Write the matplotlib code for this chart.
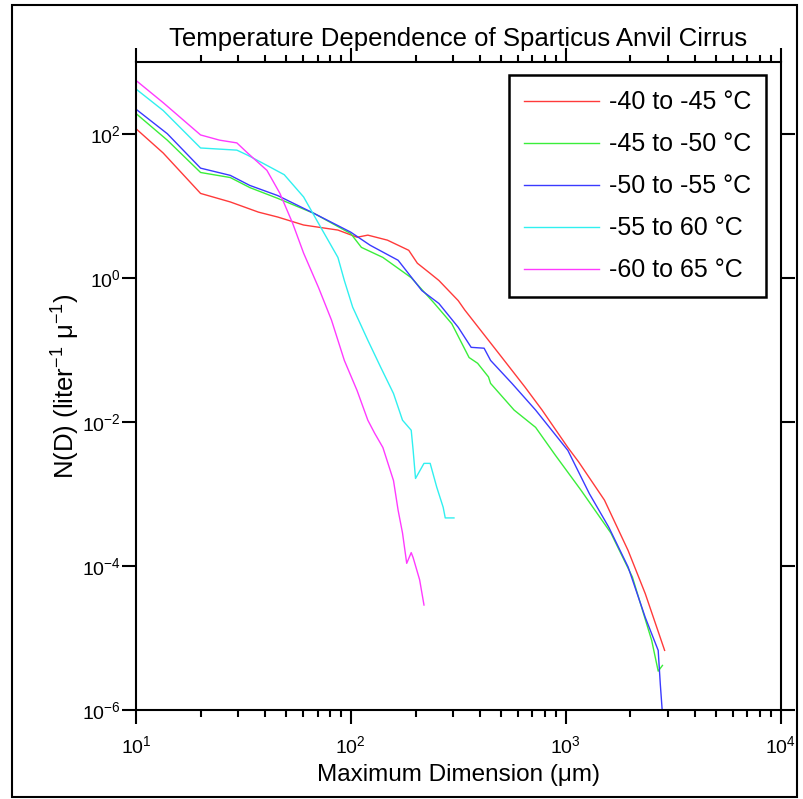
import numpy as np
import matplotlib
matplotlib.use("Agg")
import matplotlib.pyplot as plt
from matplotlib.patches import Rectangle
from matplotlib.ticker import NullLocator, LogLocator

plt.rcParams['font.family'] = ['Liberation Sans', 'DejaVu Sans']
plt.rcParams['mathtext.fontset'] = 'custom'
plt.rcParams['mathtext.rm'] = 'Liberation Sans'
plt.rcParams['mathtext.it'] = 'Liberation Sans:italic'

## Size distributions (D in microns, N in liter^-1 micron^-1)
d_40_45 = [10, 13.4, 20, 27.5, 37.2, 45.7, 60.3, 87.1, 107, 120, 148, 186, 204, 234,
           257, 316, 339, 490, 646, 776, 1023, 1148, 1514, 1950, 2344, 2884]
n_40_45 = [120, 55, 15.1, 11.5, 8.3, 7.1, 5.5, 4.68, 3.72, 3.98, 3.39, 2.45, 1.62, 1.17,
           0.933, 0.490, 0.363, 0.0891, 0.0309, 0.0148, 0.00447, 0.00282, 8.3e-4,
           1.66e-4, 4.17e-5, 6.8e-6]

d_45_50 = [10, 14.0, 20, 27.5, 33.9, 45.7, 67.6, 100, 112, 141, 191, 245, 295, 355,
           389, 437, 447, 575, 724, 891, 1175, 1622, 2042, 2512, 2692, 2818]
n_45_50 = [195, 83, 29.5, 25.1, 18.2, 12.9, 7.94, 4.17, 2.69, 1.95, 1.02, 0.447, 0.234,
           0.0794, 0.0661, 0.0427, 0.0347, 0.0148, 0.00851, 0.00355, 0.00115, 2.9e-4,
           7.1e-5, 9.3e-6, 3.5e-6, 4.2e-6]

d_50_55 = [10, 14.0, 20, 27.5, 33.9, 45.7, 67.6, 100, 123, 166, 214, 257, 316, 363,
           417, 447, 562, 724, 1023, 1288, 1585, 1950, 2344, 2692, 2754, 2818]
n_50_55 = [224, 102, 33.9, 26.9, 19.5, 14.1, 7.94, 4.37, 2.88, 1.78, 0.676, 0.447, 0.209,
           0.110, 0.107, 0.0724, 0.0347, 0.0148, 0.00407, 0.00102, 3.5e-4, 9.8e-5,
           1.95e-5, 6.8e-6, 2.3e-6, 8.9e-7]

d_55_60 = [10, 13.4, 20, 29.5, 33.1, 38.9, 49.0, 60.3, 72.4, 87.1, 93.3, 102, 120, 138,
           158, 174, 191, 195, 200, 219, 234, 251, 269, 275, 302]
n_55_60 = [427, 214, 64.6, 60.3, 51.3, 39.8, 27.5, 13.5, 5.13, 1.95, 0.933, 0.398, 0.138,
           0.0575, 0.0251, 0.0107, 0.00776, 0.00407, 0.00166, 0.00269, 0.00269, 0.00126,
           6.6e-4, 4.7e-4, 4.7e-4]

d_60_65 = [10, 13.4, 20, 24.5, 29.5, 33.1, 40.7, 46.8, 53.7, 60.3, 70.8, 81.3, 93.3, 107,
           120, 129, 141, 158, 166, 174, 182, 191, 195, 209, 219]
n_60_65 = [562, 275, 98, 83, 76, 55, 31.6, 15.1, 5.75, 2.24, 0.741, 0.263, 0.0724, 0.0275,
           0.0107, 0.00708, 0.00447, 0.00155, 6.0e-4, 2.9e-4, 1.1e-4, 1.55e-4, 1.32e-4,
           6.5e-5, 2.9e-5]

labels = ["-40 to -45 °C", "-45 to -50 °C", "-50 to -55 °C", "-55 to 60 °C", "-60 to 65 °C"]
colors = ["#ff3a3a", "#3aee3a", "#3a3aff", "#30f0f0", "#ff3aff"]
series = [(d_40_45, n_40_45), (d_45_50, n_45_50), (d_50_55, n_50_55),
          (d_55_60, n_55_60), (d_60_65, n_60_65)]

fig = plt.figure(figsize=(8.04, 7.99), dpi=100)
ax = fig.add_axes([0.169, 0.111, 0.802, 0.811])

for (d, n), lab, c in zip(series, labels, colors):
    ax.plot(d, n, color=c, lw=1.0, label=lab)

ax.set_xscale("log")
ax.set_yscale("log")
ax.set_xlim(10, 1e4)
ax.set_ylim(1e-6, 1e3)
ax.set_yticks([1e-6, 1e-4, 1e-2, 1e0, 1e2])
ax.yaxis.set_minor_locator(NullLocator())
ax.xaxis.set_minor_locator(LogLocator(base=10, subs=np.arange(2, 10)))

ax.tick_params(which="both", direction="out", top=True, right=True, width=1.5,
               labelsize=14)
ax.tick_params(which="major", length=10)
ax.tick_params(which="minor", length=5)
ax.tick_params(axis="x", which="major", pad=8)
ax.tick_params(axis="y", which="major", pad=1)
for s in ax.spines.values():
    s.set_linewidth(1.5)

ax.set_title("Temperature Dependence of Sparticus Anvil Cirrus", fontsize=18.5, pad=12)
ax.set_xlabel("Maximum Dimension (μm)", fontsize=17.5, labelpad=5)
ax.set_ylabel("N(D) (liter$^{-1}$ μ$^{-1}$)", fontsize=18.5, labelpad=0)

leg = ax.legend(loc="upper right", fontsize=18, fancybox=False, edgecolor="black",
                framealpha=1, handlelength=3.0, handletextpad=0.4, borderpad=0.6,
                labelspacing=0.72, borderaxespad=0, bbox_to_anchor=(0.978, 0.98))
leg.get_frame().set_linewidth(1.8)

# outer frame around the whole picture
fig.patches.append(Rectangle((0.015, 0.003), 0.976, 0.991, transform=fig.transFigure,
                             fill=False, edgecolor="black", linewidth=1.5))

plt.savefig("out.png", dpi=100)
